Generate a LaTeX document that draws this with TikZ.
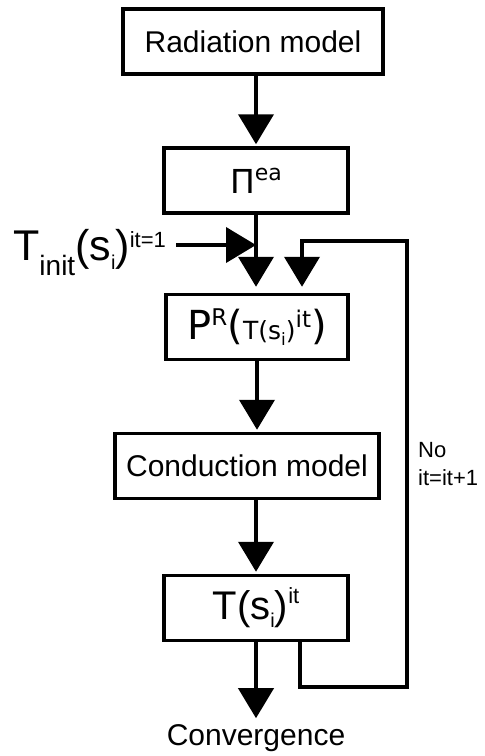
\documentclass[tikz,border=0pt]{standalone}
\usepackage{fontspec}
\setmainfont{Liberation Sans}
\newfontfamily\dejavu{DejaVu Sans}
\usetikzlibrary{arrows.meta}

\begin{document}
\begin{tikzpicture}[x=1pt,y=1pt,
    block/.style={draw, line width=3.5pt, inner sep=0pt, minimum height=65pt},
    flow/.style={line width=4pt, -{Triangle[length=30pt,width=35pt]}}]
    \useasboundingbox (0,0) rectangle (485,-756);

    % Blocks
    \node[block, minimum width=260pt, font=\fontsize{30}{30}\selectfont] (rad) at (253,-41.5) {Radiation model};
    \node[block, minimum width=184pt] (pi) at (256,-180.5) {\dejavu\fontsize{33}{33}\selectfont Π\raisebox{13pt}{\fontsize{22}{22}\selectfont ea}};
    \node[block, minimum width=182pt] (P) at (257,-327) {\dejavu\fontsize{40}{40}\selectfont P\raisebox{14pt}{\fontsize{23}{23}\selectfont R}(\fontsize{25}{25}\selectfont T(s\raisebox{-6pt}{\fontsize{17}{17}\selectfont i})\raisebox{12pt}{\fontsize{23}{23}\selectfont it}\fontsize{40}{40}\selectfont)};
    \node[block, minimum width=264pt, font=\fontsize{30}{30}\selectfont] (cond) at (247,-466) {Conduction model};
    \node[block, minimum width=184pt] (T) at (256,-608) {\fontsize{40}{40}\selectfont T(s\raisebox{-8pt}{\fontsize{20}{20}\selectfont i})\raisebox{16pt}{\fontsize{22}{22}\selectfont it}};

    % Labels
    \node[anchor=base west, inner sep=0pt] (tinit) at (13,-260) {\fontsize{43}{43}\selectfont T\raisebox{-15pt}{\fontsize{28}{28}\selectfont init}(s\raisebox{-9pt}{\fontsize{20}{20}\selectfont i})\raisebox{13pt}{\fontsize{22}{22}\selectfont it=1}};
    \node[inner sep=0pt, font=\fontsize{30}{30}\selectfont] (conv) at (256,-738) {Convergence};
    \node[anchor=north west, align=left, inner sep=0pt, font=\fontsize{22}{28}\selectfont] (no) at (418,-442) {No\\it=it+1};

    % Main flow
    \draw[flow, shorten >=2pt] (rad.south -| pi) -- (pi.north);
    \draw[flow, shorten >=6pt] (pi.south) -- (pi.south |- P.north);
    \coordinate (join) at (256,-245);
    \draw[flow, shorten <=10pt] (tinit.east |- join) -- (join);
    \draw[flow, shorten >=2pt] (P.south) -- (P.south |- cond.north);
    \draw[flow, shorten >=2pt] (cond.south -| T) -- (T.north);
    \draw[flow, shorten >=6pt] (T.south) -- (conv.north);

    % Iteration loop
    \coordinate (fbA) at (407,-687);
    \coordinate (fbB) at (407,-241);
    \draw[flow, shorten >=6pt] ([xshift=44pt]T.south) |- (fbA) -- (fbB) -| ([xshift=45pt]P.north);
\end{tikzpicture}
\end{document}
